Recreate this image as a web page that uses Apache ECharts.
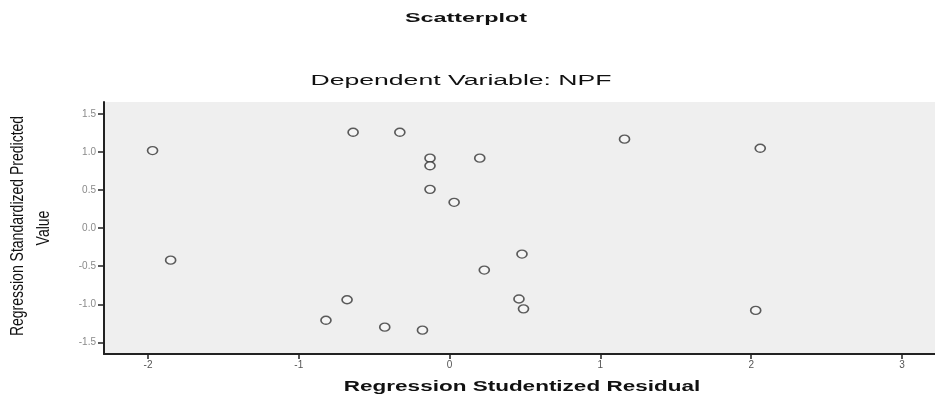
<!DOCTYPE html>
<html>
<head>
<meta charset="utf-8">
<style>
  html, body { margin: 0; padding: 0; background: #fff; }
  #chart { width: 935px; height: 399px; }
</style>
<script src="https://cdn.jsdelivr.net/npm/echarts@6/dist/echarts.min.js"></script>
</head>
<body>
<div id="chart"></div>
<script>
// studentized residual (x) and standardized predicted value (y), one entry per case
const residuals = [
  -1.97, -0.64, -0.33, -0.13, -0.13, 0.20, -0.13, 0.03, -1.85, 0.23,
  0.48, -0.68, -0.82, -0.43, -0.18, 0.46, 0.49, 1.16, 2.06, 2.03
];
const predicted = [
  1.02, 1.26, 1.26, 0.92, 0.82, 0.92, 0.51, 0.34, -0.42, -0.55,
  -0.34, -0.94, -1.21, -1.30, -1.34, -0.93, -1.06, 1.17, 1.05, -1.08
];
const xTicks = [-2, -1, 0, 1, 2, 3];
const yTicks = [-1.5, -1.0, -0.5, 0.0, 0.5, 1.0, 1.5];

const points = residuals.map((r, i) => [r, predicted[i]]);

const chart = echarts.init(document.getElementById('chart'));

const titleText = (text, x, y, font, sx) => ({
  type: 'text',
  x,
  y,
  scaleX: sx,
  silent: true,
  style: {
    text,
    font,
    fill: '#111',
    textAlign: 'center',
    textVerticalAlign: 'middle'
  }
});

const axisName = (text, x, y) => ({
  type: 'text',
  x,
  y,
  rotation: Math.PI / 2,
  scaleY: 1.3,
  silent: true,
  style: {
    text,
    font: '14px "Liberation Sans"',
    fill: '#111',
    textAlign: 'center',
    textVerticalAlign: 'middle'
  }
});

chart.setOption({
  animation: false,
  backgroundColor: '#fff',
  grid: {
    left: 104,
    right: 0,
    top: 102,
    bottom: 45,
    show: true,
    backgroundColor: '#efefef',
    borderWidth: 0
  },
  xAxis: {
    type: 'value',
    min: -2.292,
    max: 3.219,
    splitLine: { show: false },
    axisLine: { onZero: false, lineStyle: { color: '#222', width: 2 } },
    axisTick: {
      customValues: xTicks,
      length: 5,
      lineStyle: { color: '#222', width: 1.5 }
    },
    axisLabel: {
      customValues: xTicks,
      color: '#555',
      fontSize: 10,
      fontFamily: 'Liberation Sans',
      margin: 6
    }
  },
  yAxis: {
    type: 'value',
    min: -1.653,
    max: 1.658,
    splitLine: { show: false },
    axisLine: { show: true, onZero: false, lineStyle: { color: '#222', width: 2 } },
    axisTick: {
      show: true,
      customValues: yTicks,
      length: 6,
      lineStyle: { color: '#222', width: 1.5 }
    },
    axisLabel: {
      customValues: yTicks,
      color: '#8a8a8a',
      fontSize: 10,
      fontFamily: 'Liberation Sans',
      margin: 8,
      formatter: v => v.toFixed(1)
    }
  },
  graphic: [
    titleText('Scatterplot', 466, 18, 'bold 13px "Liberation Sans"', 1.8),
    titleText('Dependent Variable: NPF', 461, 81, '14px "Liberation Sans"', 1.9),
    titleText('Regression Studentized Residual', 522, 387, 'bold 15px "Liberation Sans"', 1.5),
    axisName('Regression Standardized Predicted', 18, 226),
    axisName('Value', 44, 228)
  ],
  series: [
    {
      type: 'scatter',
      data: points,
      symbol: 'circle',
      symbolSize: [10, 8],
      itemStyle: {
        color: '#f6f6f6',
        borderColor: '#333',
        borderWidth: 1.5
      }
    }
  ]
});
</script>
</body>
</html>
